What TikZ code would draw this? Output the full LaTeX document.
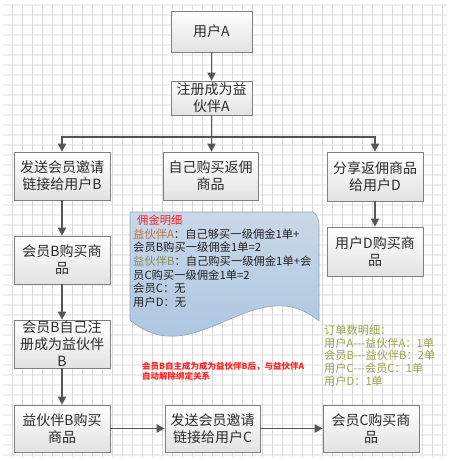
\documentclass[tikz,border=0pt]{standalone}
\usepackage{fontspec}
\setmainfont{Noto Sans CJK SC}
\usetikzlibrary{arrows.meta,shadows}
\definecolor{boxborder}{HTML}{7F7F7F}
\definecolor{boxbot}{HTML}{E2E2E2}
\definecolor{arr}{HTML}{555555}
\definecolor{gridv}{HTML}{D9D9D9}
\definecolor{gridh}{HTML}{EFEFEF}
\definecolor{doctop}{HTML}{CAD8E8}
\definecolor{docbot}{HTML}{A5C1DE}
\definecolor{docborder}{HTML}{8FA6BF}
\definecolor{redtxt}{HTML}{FF2222}
\definecolor{brownA}{HTML}{C0703A}
\definecolor{oliveB}{HTML}{858F5E}
\definecolor{greentxt}{HTML}{9AA44E}
\definecolor{boxtxt}{HTML}{2B2B2B}
\newcommand{\tridash}{-{}-{}-}
\begin{document}
\begin{tikzpicture}[x=1pt,y=-1pt,
  box/.style={draw=boxborder,line width=0.7pt,top color=white,bottom color=boxbot,
     inner sep=0pt,align=center,text=boxtxt,font=\fontsize{14}{17}\selectfont,
     drop shadow={shadow xshift=1.2pt,shadow yshift=-1.2pt,fill=black,opacity=0.2}},
  conn/.style={draw=arr,line width=1.8pt,-{Triangle[length=8pt,width=8pt]}},
  plain/.style={draw=arr,line width=1.8pt},
  doctxt/.style={anchor=base west,inner sep=0pt,font=\fontsize{11.3}{13.6}\selectfont,text=black!88},
  grn/.style={anchor=base west,inner sep=0pt,font=\fontsize{11.2}{12.8}\selectfont,text=greentxt},
  rednote/.style={anchor=base west,inner sep=0pt,font=\fontsize{8.5}{10}\selectfont\bfseries,text=redtxt}
]
\useasboundingbox[fill=white] (0,0) rectangle (454,462);
% grid
\foreach \gy in {5,15,...,455} \draw[gridh,line width=1.6pt] (3,\gy) -- (447,\gy);
\foreach \gx in {12,22,...,442} \draw[gridv,line width=0.8pt] (\gx,5) -- (\gx,457);

% boxes
\node[box,minimum width=81pt,minimum height=41pt] (uA) at (211.5,31.5) {用户A};
\node[box,minimum width=81pt,minimum height=34pt] (reg) at (211.5,98) {注册成为益\\伙伴A};
\node[box,minimum width=96pt,minimum height=48pt] (sendB) at (62,176) {发送会员邀请\\链接给用户B};
\node[box,minimum width=95pt,minimum height=48pt] (self) at (210.5,176) {自己购买返佣\\商品};
\node[box,minimum width=96pt,minimum height=49pt] (share) at (375,176.5) {分享返佣商品\\给用户D};
\node[box,minimum width=96pt,minimum height=49pt] (buyD) at (375,251.5) {用户D购买商\\品};
\node[box,minimum width=96pt,minimum height=48pt] (buyB) at (62,260) {会员B购买商\\品};
\node[box,minimum width=96pt,minimum height=48pt] (regB) at (62,344) {会员B自己注\\册成为益伙伴\\B};
\node[box,minimum width=96pt,minimum height=47pt] (pbuy) at (62,428.5) {益伙伴B购买\\商品};
\node[box,minimum width=95pt,minimum height=47pt] (sendC) at (212.5,428.5) {发送会员邀请\\链接给用户C};
\node[box,minimum width=96pt,minimum height=47pt] (buyC) at (371,428.5) {会员C购买商\\品};

% connectors
\coordinate (bus) at (211.5,137);
\draw[conn] (uA) -- (reg);
\draw[plain] (reg.south) -- (bus);
\draw[conn] (bus) -| (sendB.north);
\draw[conn] (bus) -| (share.north);
\draw[conn] (bus) -- (self.north -| bus);
\draw[conn] (sendB) -- (buyB);
\draw[conn] (buyB) -- (regB);
\draw[conn] (regB) -- (pbuy);
\draw[conn] (pbuy) -- (sendC);
\draw[conn] (sendC) -- (buyC);
\draw[conn] (share) -- (buyD);

% document shape
\path[draw=docborder,line width=0.6pt,top color=doctop,bottom color=docbot]
  (130,212) -- (313,212) .. controls (317,214) and (319,220) .. (319,226)
  -- (319,321) .. controls (255,268) and (195,375) .. (130,320) -- cycle;
\node[doctxt] (d1) at (137,224.5) {\textcolor{redtxt}{佣金明细}};
\node[doctxt] (d2) at (133,238.2) {\textcolor{brownA}{益伙伴A}：自己够买一级佣金1单+};
\node[doctxt] (d3) at (133,251.8) {会员B购买一级佣金1单=2};
\node[doctxt] (d4) at (133,265.4) {\textcolor{oliveB}{益伙伴B}：自己购买一级佣金1单+会};
\node[doctxt] (d5) at (133,279.0) {员C购买一级佣金1单=2};
\node[doctxt] (d6) at (133,292.6) {会员C：无};
\node[doctxt] (d7) at (133,306.2) {用户D：无};

% red note
\node[rednote] (r1) at (142,369.2) {会员B自主成为成为益伙伴B后，与益伙伴A};
\node[rednote] (r2) at (142,379.2) {自动解除绑定关系};

% green list
\node[grn] (g1) at (324,334.2) {订单数明细：};
\node[grn] (g2) at (324,347.0) {用户A\tridash 益伙伴A：1单};
\node[grn] (g3) at (324,359.8) {会员B\tridash 益伙伴B：2单};
\node[grn] (g4) at (324,372.6) {用户C\tridash 会员C：1单};
\node[grn] (g5) at (324,385.4) {用户D：1单};
\end{tikzpicture}
\end{document}
